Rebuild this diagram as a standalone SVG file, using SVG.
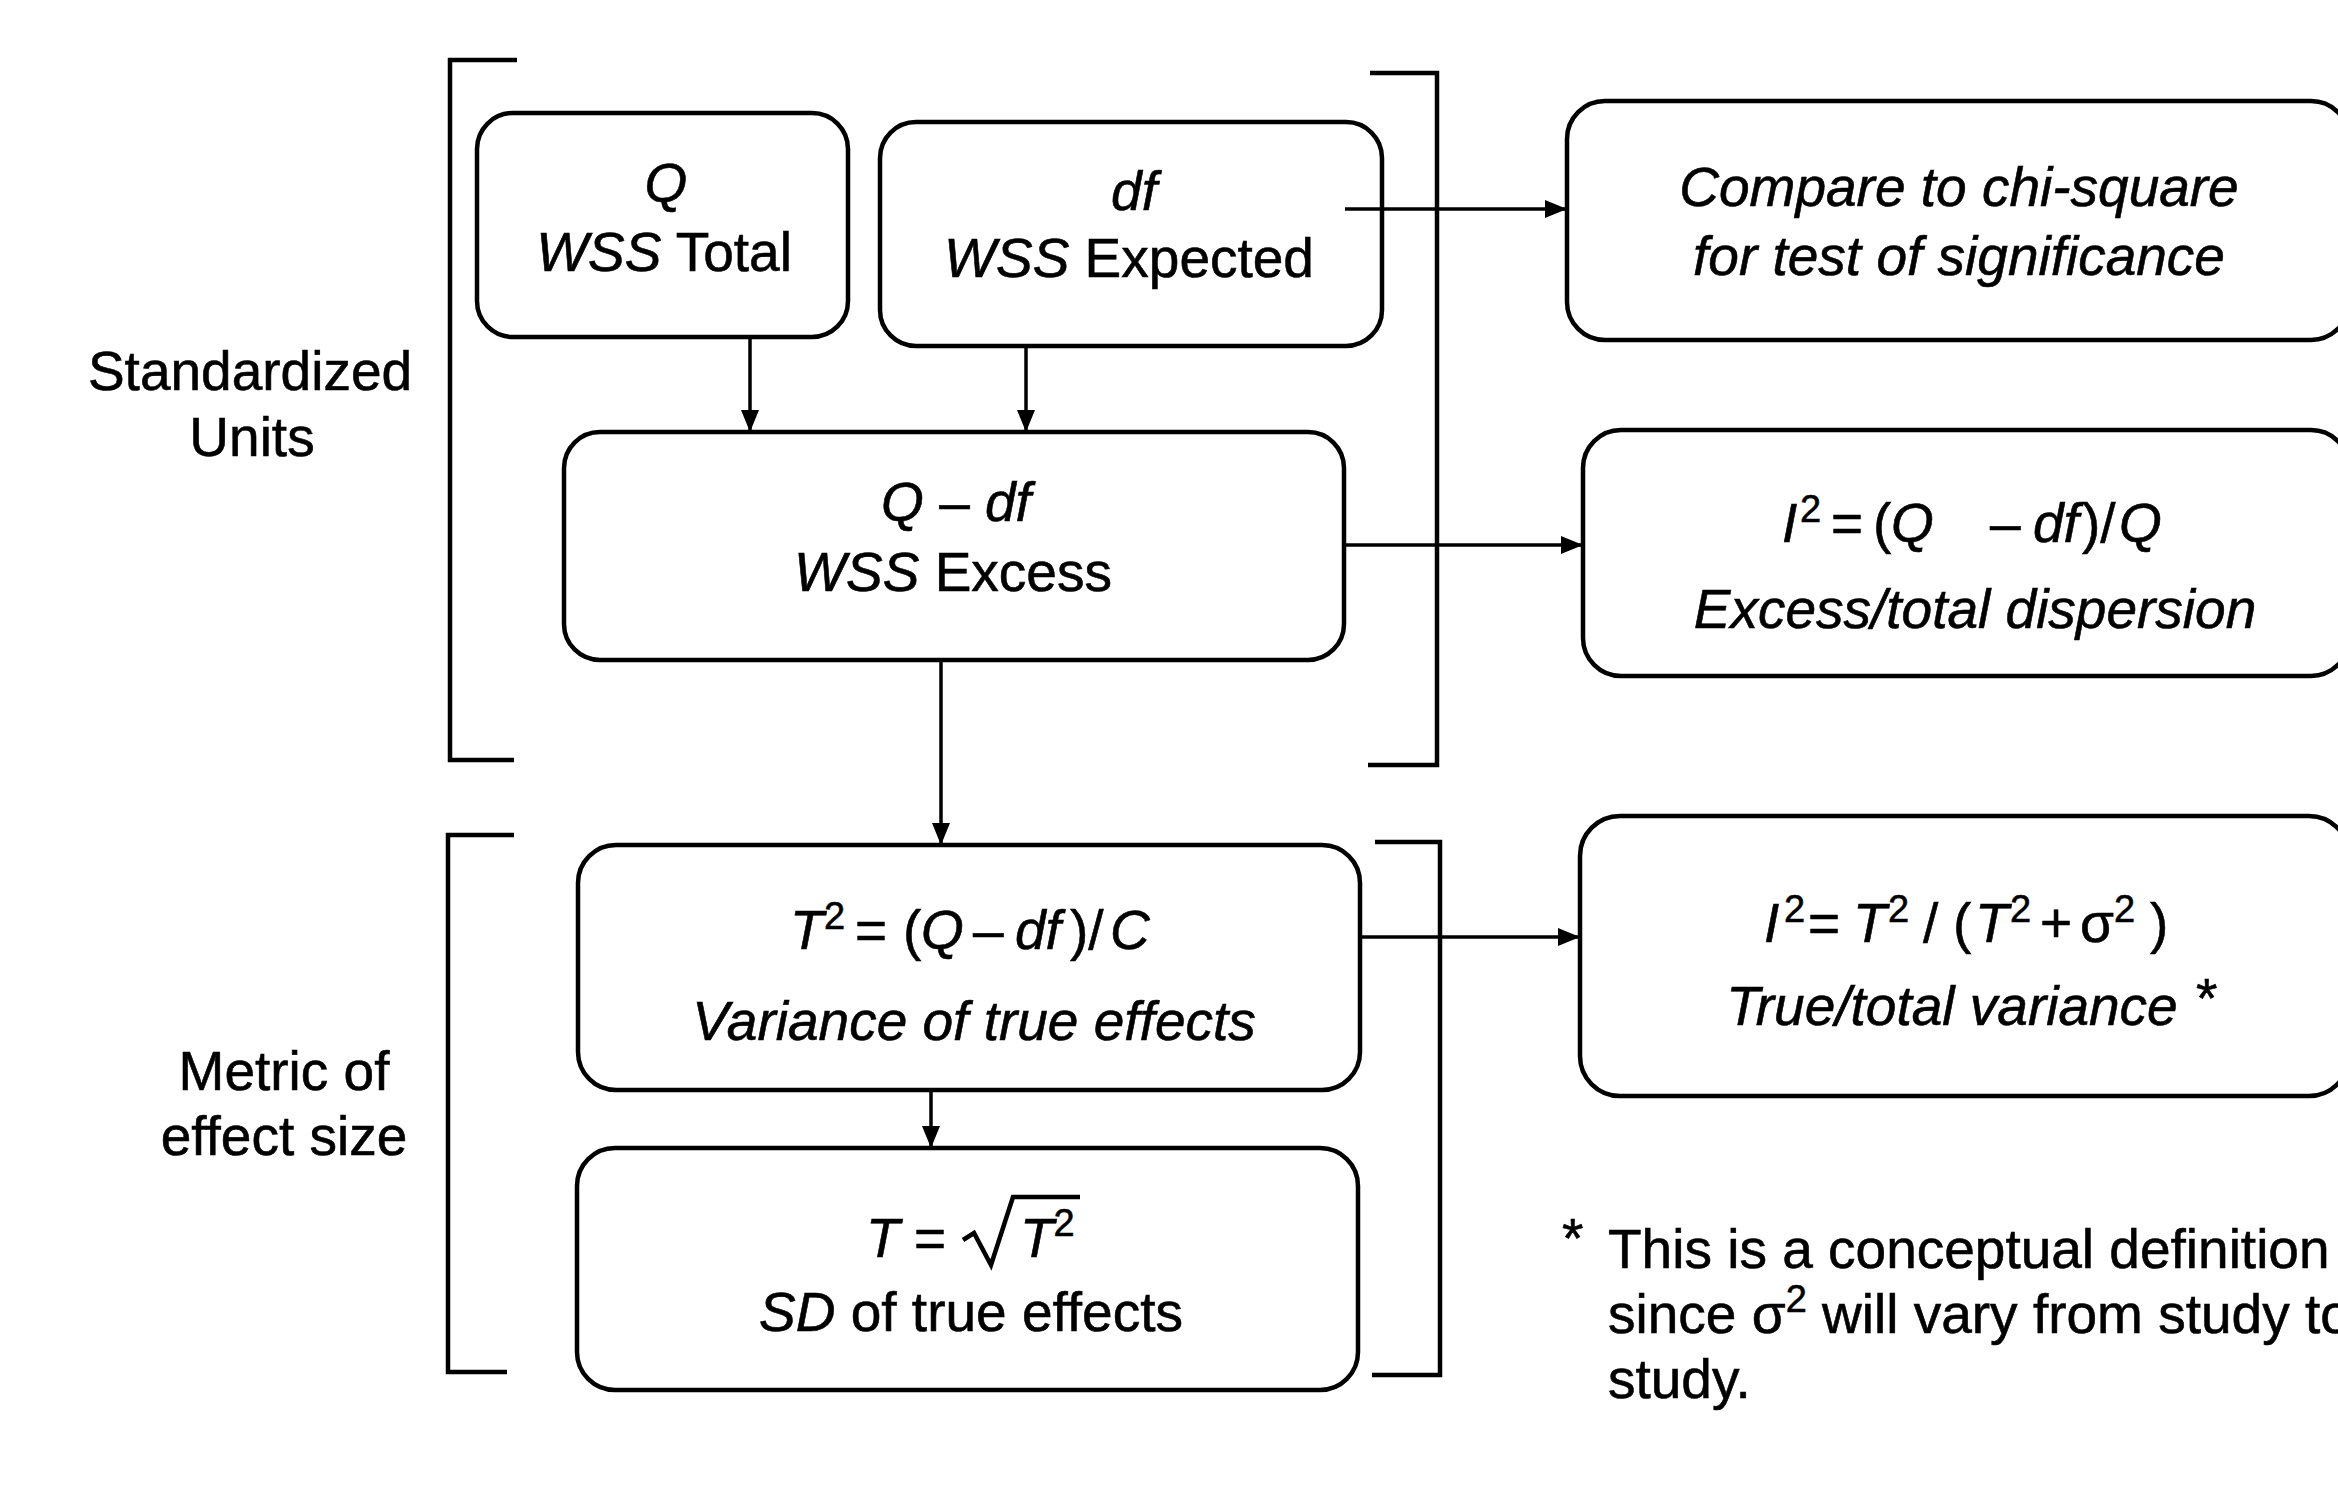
<svg xmlns="http://www.w3.org/2000/svg" width="2338" height="1488" viewBox="0 0 2338 1488">
<style>
text { font-family: "Liberation Sans", Arial, Helvetica, sans-serif; font-size: 55px; fill: #000; stroke: #000; stroke-width: 0.6px; }
.c { text-anchor: middle; }
.it { font-style: italic; }
.sup { font-size: 38px; }
.box { fill: #fff; stroke: #000; stroke-width: 4.5; }
.br { fill: none; stroke: #000; stroke-width: 4.5; }
.ar { fill: none; stroke: #000; stroke-width: 3.5; marker-end: url(#ah); }
</style>
<defs>
<marker id="ah" markerUnits="userSpaceOnUse" markerWidth="24" markerHeight="20" refX="22" refY="9" orient="auto">
<path d="M0,0 L22,9 L0,18 z" fill="#000"/>
</marker>
</defs>
<rect width="2338" height="1488" fill="#fff"/>

<g id="brackets">
<path class="br" d="M517,60 H450 V760 H514"/>
<path class="br" d="M1370,73 H1437 V765 H1368"/>
<path class="br" d="M514,835 H448 V1372 H507"/>
<path class="br" d="M1375,842 H1440 V1375 H1372"/>
</g>

<g id="labels">
<text class="c" x="250" y="390">Standardized</text>
<text class="c" x="252" y="456">Units</text>
<text class="c" x="284" y="1090">Metric of</text>
<text class="c" x="284" y="1155">effect size</text>
</g>

<g id="node-q">
<rect class="box" x="477" y="113" width="371" height="224" rx="36"/>
<text class="c it" x="666" y="202">Q</text>
<text class="c" x="664" y="271"><tspan class="it">WSS</tspan> Total</text>
</g>

<g id="node-df">
<rect class="box" x="880" y="122" width="502" height="224" rx="36"/>
<text class="c it" x="1134" y="210">df</text>
<text class="c" x="1129" y="277"><tspan class="it">WSS</tspan> Expected</text>
</g>

<g id="node-excess">
<rect class="box" x="564" y="432" width="780" height="228" rx="36"/>
<text class="c" x="956" y="521"><tspan class="it">Q</tspan> – <tspan class="it">df</tspan></text>
<text class="c" x="953" y="591"><tspan class="it">WSS</tspan> Excess</text>
</g>

<g id="node-compare">
<rect class="box" x="1567" y="101" width="782" height="239" rx="38"/>
<text class="c it" x="1959" y="206">Compare to chi-square</text>
<text class="c it" x="1959" y="275">for test of significance</text>
</g>

<g id="node-i2-excess">
<rect class="box" x="1583" y="430" width="766" height="246" rx="38"/>
<text y="542"><tspan class="it" x="1782">I</tspan><tspan class="sup" x="1800" dy="-20">2</tspan><tspan x="1831" dy="20">=</tspan><tspan x="1873">(</tspan><tspan class="it" x="1891">Q</tspan><tspan x="1990">–</tspan><tspan class="it" x="2033">df</tspan><tspan x="2082">)/</tspan><tspan class="it" x="2119">Q</tspan></text>
<text class="c it" x="1975" y="628">Excess/total dispersion</text>
</g>

<g id="node-t2">
<rect class="box" x="578" y="845" width="782" height="245" rx="38"/>
<text y="949"><tspan class="it" x="790">T</tspan><tspan class="sup" x="824" dy="-20">2</tspan><tspan x="855" dy="20">=</tspan><tspan x="903">(</tspan><tspan class="it" x="921">Q</tspan><tspan x="973">–</tspan><tspan class="it" x="1015">df</tspan><tspan x="1070">)/</tspan><tspan class="it" x="1110">C</tspan></text>
<text class="c it" x="974" y="1040">Variance of true effects</text>
</g>

<g id="node-t">
<rect class="box" x="577" y="1148" width="781" height="242" rx="38"/>
<text class="it" x="866" y="1257">T</text>
<text x="914" y="1257">=</text>
<path d="M963,1240 L974,1233 L991,1265 L1013,1197 L1080,1197" fill="none" stroke="#000" stroke-width="4.5"/>
<text x="1020" y="1257"><tspan class="it">T</tspan><tspan class="sup" dy="-21">2</tspan></text>
<text class="c" x="971" y="1331"><tspan class="it">SD</tspan> of true effects</text>
</g>

<g id="node-i2-true">
<rect class="box" x="1580" y="816" width="769" height="280" rx="40"/>
<text y="942"><tspan class="it" x="1764">I</tspan><tspan class="sup" x="1784" dy="-20">2</tspan><tspan x="1808" dy="20">=</tspan><tspan class="it" x="1853">T</tspan><tspan class="sup" x="1888" dy="-20">2</tspan><tspan x="1923" dy="20">/</tspan><tspan x="1953">(</tspan><tspan class="it" x="1975">T</tspan><tspan class="sup" x="2010" dy="-20">2</tspan><tspan x="2040" dy="20">+</tspan><tspan x="2080">σ</tspan><tspan class="sup" x="2114" dy="-20">2</tspan><tspan x="2150" dy="20">)</tspan></text>
<text class="c it" x="1952" y="1025">True/total variance</text>
<text x="2196" y="1017">*</text>
</g>

<g id="connectors">
<line class="ar" x1="750" y1="337" x2="750" y2="432"/>
<line class="ar" x1="1026" y1="345" x2="1026" y2="432"/>
<line class="ar" x1="1345" y1="209" x2="1567" y2="209"/>
<line class="ar" x1="1343" y1="545" x2="1583" y2="545"/>
<line class="ar" x1="941" y1="660" x2="941" y2="845"/>
<line class="ar" x1="1358" y1="937" x2="1580" y2="937"/>
<line class="ar" x1="931" y1="1090" x2="931" y2="1148"/>
</g>

<g id="footnote">
<text x="1562" y="1257">*</text>
<text x="1608" y="1268">This is a conceptual definition</text>
<text x="1608" y="1333">since σ<tspan class="sup" dy="-21">2</tspan><tspan dy="21"> will vary from study to</tspan></text>
<text x="1608" y="1398">study.</text>
</g>
</svg>
